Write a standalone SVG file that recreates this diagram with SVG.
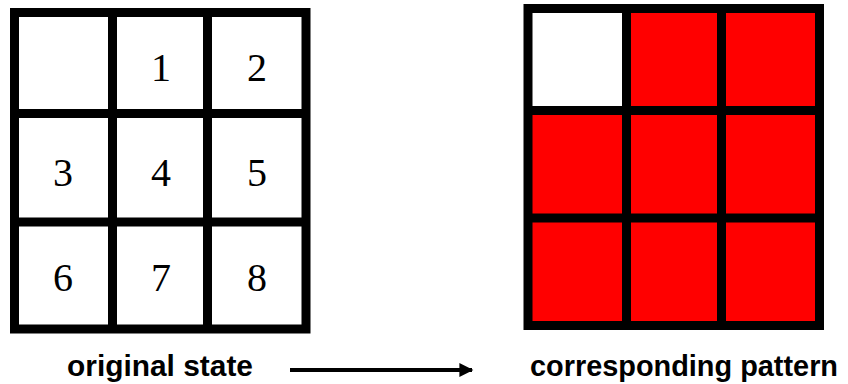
<svg xmlns="http://www.w3.org/2000/svg" width="848" height="384" viewBox="0 0 848 384">
  <style>
    .grid { fill: none; stroke: #000; stroke-width: 9; stroke-linecap: square; }
    .num { font-family: "Liberation Serif", "Times New Roman", serif; font-size: 40px; fill: #000; text-anchor: middle; }
    .lbl { font-family: "Liberation Sans", Arial, sans-serif; font-weight: bold; font-size: 29px; fill: #000; }
    .red { fill: #ff0000; }
  </style>
  <defs>
    <marker id="head" viewBox="0 0 10 10" refX="9" refY="5" markerWidth="4" markerHeight="3.5" markerUnits="strokeWidth" orient="auto">
      <path d="M0,0 L10,5 L0,10 z" fill="#000"/>
    </marker>
  </defs>

  <rect width="848" height="384" fill="#fff"/>

  <!-- 8-puzzle board with tile numbers -->
  <g id="original-state">
    <rect x="14.5" y="12.5" width="291.5" height="316.5" fill="#fff"/>
    <path class="grid" d="M14.5,12.5 H306 V329 H14.5 Z M112.5,12.5 V329 M207.5,12.5 V329 M14.5,113.5 H306 M14.5,222 H306"/>
    <text class="num" x="161" y="81">1</text>
    <text class="num" x="257" y="81">2</text>
    <text class="num" x="63" y="186">3</text>
    <text class="num" x="161" y="186">4</text>
    <text class="num" x="257" y="186">5</text>
    <text class="num" x="63" y="291">6</text>
    <text class="num" x="161" y="291">7</text>
    <text class="num" x="257" y="291">8</text>
  </g>

  <!-- Binary pattern: blank cell white, occupied cells red -->
  <g id="corresponding-pattern">
    <rect x="528" y="8.5" width="291.5" height="317" class="red"/>
    <rect x="528" y="8.5" width="98.5" height="102" fill="#fff"/>
    <path class="grid" d="M528,8.5 H819.5 V325.5 H528 Z M626.5,8.5 V325.5 M721.5,8.5 V325.5 M528,110.5 H819.5 M528,218 H819.5"/>
  </g>

  <g id="label-original">
    <text class="lbl" x="67" y="376" textLength="186" lengthAdjust="spacingAndGlyphs">original state</text>
  </g>
  <g id="label-pattern">
    <text class="lbl" x="530" y="376" textLength="308" lengthAdjust="spacingAndGlyphs">corresponding pattern</text>
  </g>

  <g id="connectors">
    <line x1="290" y1="370" x2="472" y2="370" stroke="#000" stroke-width="4" marker-end="url(#head)"/>
  </g>
</svg>
